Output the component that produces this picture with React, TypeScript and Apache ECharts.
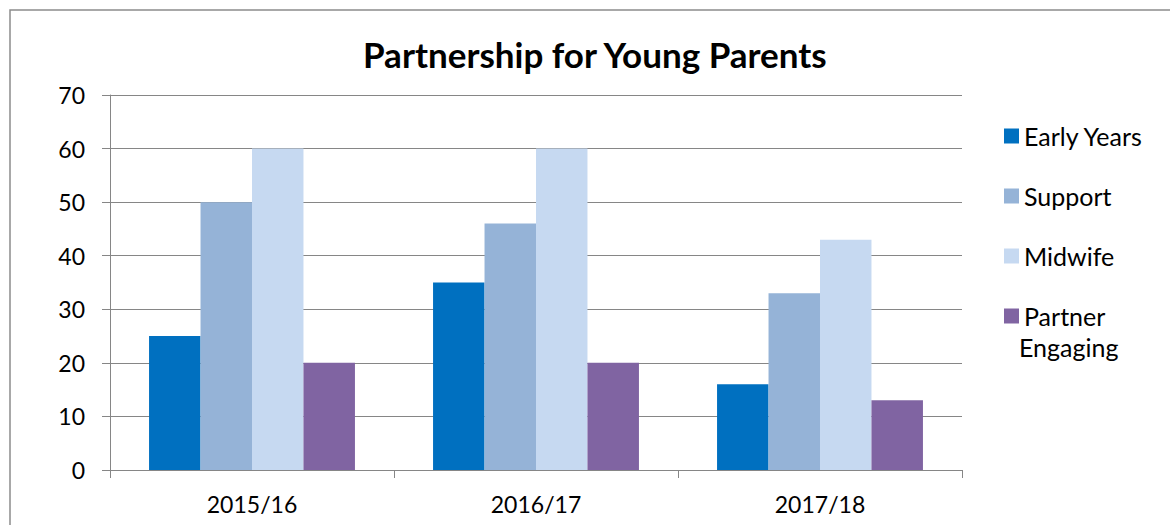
import React, { useEffect, useRef } from "react";
import * as echarts from "echarts";

const categories = ["2015/16", "2016/17", "2017/18"];
const seriesNames = ["Early Years", "Support", "Midwife", "Partner Engaging"];
const earlyYears = [25, 35, 16];
const support = [50, 46, 33];
const midwife = [60, 60, 43];
const partnerEngaging = [20, 20, 13];
const colors = ["#0070C0", "#95B3D7", "#C6D9F1", "#8064A2"];
const yTicks = { min: 0, max: 70, interval: 10 };

const FONT = "Lato, 'Open Sans', sans-serif";

export default function App() {
  const ref = useRef<HTMLDivElement>(null);
  useEffect(() => {
    if (!ref.current) return;
    const chart = echarts.init(ref.current, null, { renderer: "svg" });
    const values = [earlyYears, support, midwife, partnerEngaging];
    chart.setOption({
      animation: false,
      backgroundColor: "#ffffff",
      textStyle: { fontFamily: FONT, color: "#000" },
      title: {
        text: "Partnership for Young Parents",
        left: 363,
        top: 36,
        padding: 0,
        textStyle: { fontFamily: FONT, fontSize: 35, fontWeight: "bold", color: "#000" },
      },
      legend: {
        orient: "vertical",
        left: 999,
        top: 118,
        itemWidth: 15,
        itemHeight: 15,
        itemGap: 34,
        icon: "rect",
        data: seriesNames,
        formatter: (name: string) => (name === "Partner Engaging" ? "Partner" : name),
        textStyle: { fontFamily: FONT, fontSize: 25, color: "#000", lineHeight: 26 },
      },
      grid: { left: 110, right: 208, top: 95, bottom: 55, containLabel: false },
      xAxis: {
        type: "category",
        data: categories,
        boundaryGap: true,
        axisLine: { show: true, lineStyle: { color: "#868686", width: 1 } },
        axisTick: { show: true, length: 8, interval: 0, lineStyle: { color: "#868686" } },
        axisLabel: { fontFamily: FONT, fontSize: 23, color: "#000", margin: 22 },
      },
      yAxis: {
        type: "value",
        min: yTicks.min,
        max: yTicks.max,
        interval: yTicks.interval,
        axisLine: { show: true, lineStyle: { color: "#868686", width: 1 } },
        axisTick: { show: true, length: 8, lineStyle: { color: "#868686" } },
        axisLabel: { fontFamily: FONT, fontSize: 23, color: "#000", margin: 25 },
        splitLine: { show: true, lineStyle: { color: "#868686", width: 1 } },
      },
      graphic: [
        {
          type: "rect",
          shape: { x: 10, y: 10, width: 1300, height: 700 },
          style: { fill: "none", stroke: "#8c8c8c", lineWidth: 1.5 },
          silent: true,
          z: -1,
        },
        {
          type: "text",
          left: 1019,
          top: 334,
          style: { text: "Engaging", font: `25px ${FONT}`, fill: "#000" },
          silent: true,
        },
      ],
      series: seriesNames.map((name, i) => ({
        name,
        type: "bar",
        data: values[i],
        barGap: "0%",
        barCategoryGap: "27.5%",
        itemStyle: { color: colors[i] },
      })),
    });
    return () => chart.dispose();
  }, []);
  return (
    <div
      ref={ref}
      style={{ position: "absolute", left: 0, top: 0, width: 1170, height: 525 }}
    />
  );
}
